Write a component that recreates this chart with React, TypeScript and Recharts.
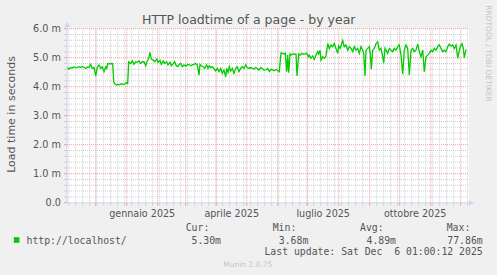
import React from 'react';
import { LineChart, Line, XAxis, YAxis, ReferenceLine, CartesianGrid } from 'recharts';

// Days since 1 Nov 2024
const daysEarly = [
  1.6, 3.3, 5.0, 6.6, 8.3, 10.0, 11.6, 13.3, 15.0, 16.6,
  18.3, 20.0, 21.6, 23.3, 25.0, 26.6, 28.3, 30.0, 31.6, 33.3,
  35.0, 36.6, 38.3, 40.0, 41.0, 42.0, 43.6, 45.3, 47.0, 48.0,
  49.0, 50.6, 52.3, 54.0, 55.6, 57.3, 59.0, 60.6, 62.0, 63.0,
  65.0, 66.6, 68.3, 70.0, 71.6, 73.3, 75.0, 76.6, 78.3, 80.0,
  81.6, 83.0, 84.3, 85.6, 87.6, 89.0, 91.0, 92.3, 94.3, 95.6,
  97.6, 99.0, 101.0, 102.3, 104.3, 105.6, 107.6, 109.0, 110.6, 112.3,
  113.6, 115.0, 116.6, 118.3, 120.0, 121.6, 123.3, 125.0, 126.6, 128.3,
  130.0, 131.6, 133.3, 134.3, 135.6, 137.6, 139.0, 141.0, 142.3, 143.6,
  145.0, 146.6, 148.3, 150.0, 151.6, 153.3, 155.0, 156.6, 158.3, 160.0,
  161.0, 162.3, 163.6, 165.0, 166.6, 168.3, 170.0, 171.6, 173.3, 175.0,
  176.6, 178.3, 180.0, 181.6, 183.3, 185.0, 186.6, 188.3, 190.0, 191.6,
  193.3, 195.0, 196.6, 198.3,
];
const loadEarly = [
  4.67, 4.60, 4.66, 4.64, 4.68, 4.66, 4.67, 4.69, 4.66, 4.70,
  4.67, 4.63, 4.68, 4.66, 4.77, 4.63, 4.66, 4.37, 4.67, 4.75,
  4.63, 4.69, 4.52, 4.69, 4.63, 4.80, 4.79, 4.80, 4.79, 4.17,
  4.10, 4.06, 4.08, 4.07, 4.10, 4.08, 4.09, 4.14, 4.11, 4.86,
  4.80, 4.89, 4.77, 4.86, 4.84, 4.89, 4.80, 4.86, 4.86, 4.72,
  4.89, 4.98, 5.18, 4.95, 4.92, 4.86, 4.95, 4.84, 4.91, 4.77,
  4.89, 4.80, 4.86, 4.75, 4.84, 4.72, 4.80, 4.86, 4.72, 4.69,
  4.77, 4.80, 4.69, 4.75, 4.71, 4.75, 4.77, 4.72, 4.75, 4.77,
  4.80, 4.75, 4.40, 4.77, 4.72, 4.69, 4.63, 4.75, 4.63, 4.72,
  4.66, 4.69, 4.63, 4.54, 4.63, 4.52, 4.63, 4.46, 4.57, 4.34,
  4.63, 4.49, 4.69, 4.54, 4.63, 4.46, 4.63, 4.69, 4.52, 4.63,
  4.69, 4.63, 4.75, 4.66, 4.63, 4.66, 4.63, 4.61, 4.66, 4.63,
  4.57, 4.66, 4.63, 4.57,
];
const daysLate = [
  200.3, 202.0, 203.6, 205.3, 207.0, 208.6, 210.3, 212.0, 213.6, 215.3,
  217.0, 218.6, 219.6, 221.0, 222.0, 223.0, 224.3, 225.3, 227.0, 228.6,
  230.3, 231.3, 233.0, 234.6, 236.3, 238.0, 239.6, 241.0, 242.6, 243.6,
  245.3, 247.0, 248.6, 250.3, 252.0, 253.0, 254.3, 255.3, 257.0, 258.6,
  260.3, 262.0, 263.6, 265.3, 267.0, 268.6, 270.3, 272.0, 273.0, 274.3,
  275.6, 277.0, 278.6, 280.3, 282.0, 283.6, 285.3, 287.0, 288.6, 290.3,
  292.0, 293.6, 295.3, 297.0, 298.0, 299.3, 300.3, 302.0, 303.6, 304.6,
  305.6, 307.0, 308.6, 310.3, 312.0, 313.6, 315.3, 317.0, 318.0, 319.3,
  320.3, 322.0, 323.6, 325.3, 327.0, 328.6, 330.3, 332.0, 333.6, 335.3,
  337.0, 338.6, 340.3, 342.0, 343.6, 345.3, 347.0, 348.6, 350.3, 352.0,
  353.6, 355.3, 357.0, 358.6, 360.3, 362.0, 363.6, 365.3, 367.0, 368.6,
  370.3, 372.0, 373.6, 375.3, 377.0, 378.6, 380.3, 382.0, 383.6, 385.3,
  387.0, 388.6, 390.3, 392.0, 393.6, 395.3, 396.3, 397.6, 398.6, 400.3,
];
const loadLate = [
  4.58, 4.63, 4.52, 4.60, 4.58, 4.55, 4.60, 4.55, 4.52, 5.17,
  5.15, 5.13, 5.15, 4.52, 5.09, 4.48, 5.13, 5.09, 5.13, 5.12,
  5.13, 4.37, 5.13, 5.09, 5.15, 5.12, 5.13, 5.15, 5.03, 5.09,
  4.98, 5.06, 4.94, 5.09, 5.21, 5.13, 5.26, 4.92, 5.03, 4.98,
  5.06, 5.49, 5.32, 5.44, 5.38, 5.49, 5.32, 5.15, 5.40, 5.32,
  5.44, 5.59, 5.38, 5.44, 5.26, 5.38, 5.32, 5.21, 5.38, 5.26,
  5.32, 5.15, 5.38, 5.26, 5.15, 4.37, 5.26, 5.32, 5.38, 5.15,
  4.60, 5.26, 5.32, 5.49, 5.55, 5.26, 5.32, 5.03, 4.81, 5.32,
  5.26, 5.15, 5.32, 5.26, 5.21, 5.32, 5.26, 5.38, 5.44, 5.09,
  4.43, 5.26, 5.44, 5.32, 4.40, 5.26, 5.32, 5.21, 5.26, 5.47,
  5.21, 5.03, 5.26, 4.52, 5.03, 5.09, 5.15, 5.26, 5.21, 5.32,
  5.26, 5.38, 5.44, 5.32, 5.21, 5.26, 5.21, 5.38, 5.47, 5.40,
  5.44, 5.32, 5.44, 4.98, 5.26, 5.44, 5.49, 5.32, 5.00, 5.29,
];

const monthStarts = [30, 61, 92, 120, 151, 181, 212, 242, 273, 304, 334, 365, 395];
const weekStarts = Array.from({ length: 58 }, (_, i) => 3 + 7 * i);
const quarterLabelDays = [76.5, 166, 257.5, 349.5];
const quarterLabels = ['gennaio 2025', 'aprile 2025', 'luglio 2025', 'ottobre 2025'];
const yTicks = Array.from({ length: 31 }, (_, i) => Math.round(i * 2) / 10);
const yMajor = [1, 2, 3, 4, 5, 6];
const yMinor = yTicks.filter((v) => v > 0 && !yMajor.includes(v));

const legendHeaders = ['Cur:', 'Min:', 'Avg:', 'Max:'];
const legendValues = ['5.30m', '3.68m', '4.89m', '77.86m'];
const seriesName = 'http://localhost/';
const lastUpdate = 'Last update: Sat Dec  6 01:00:12 2025';
const title = 'HTTP loadtime of a page - by year';
const yTitle = 'Load time in seconds';

const data = [...daysEarly.map((d, i) => ({ d, v: loadEarly[i] })), ...daysLate.map((d, i) => ({ d, v: loadLate[i] }))];
const xTicks = Array.from(new Set([...weekStarts, ...monthStarts, ...quarterLabelDays])).sort((a, b) => a - b);

const FONT = 'DejaVu Sans, sans-serif';
const MONO = 'DejaVu Sans Mono, monospace';
const TXT = '#555555';
const GRID = '#cfcfcf';
const MGRID = '#eaa0a0';
const AXIS = '#CFD6F8';

const XTick = (props: any) => {
  const { x, y, payload } = props;
  const v = payload.value;
  const li = quarterLabelDays.indexOf(v);
  if (li >= 0) {
    return (
      <text x={x} y={y + 14} textAnchor="middle" fontSize={9.6} fill={TXT} fontFamily={FONT}>
        {quarterLabels[li]}
      </text>
    );
  }
  const isMonth = monthStarts.includes(v);
  return <line x1={x} x2={x} y1={y} y2={y + 3} stroke={isMonth ? MGRID : GRID} strokeWidth={1} />;
};

const YTick = (props: any) => {
  const { x, y, payload } = props;
  const v = Math.round(payload.value * 10) / 10;
  const major = Math.abs(v - Math.round(v)) < 1e-6;
  return (
    <g>
      <line x1={x - 3} x2={x} y1={y} y2={y} stroke={major ? MGRID : GRID} strokeWidth={1} />
      {major && (
        <text x={x - 6} y={y} dy="0.36em" textAnchor="end" fontSize={9.7} fill={TXT} fontFamily={FONT}>
          {v === 0 ? '0.0' : v.toFixed(1) + ' m'}
        </text>
      )}
    </g>
  );
};

export default function App() {
  return (
    <div style={{ position: 'absolute', left: 0, top: 0, width: 497, height: 275, background: '#f0f0f0', overflow: 'hidden' }}>
      <LineChart width={497} height={275} data={data} margin={{ top: 28.7, right: 28, left: 7, bottom: 52.3 }}>
        <CartesianGrid horizontal={false} vertical={false} fill="#ffffff" fillOpacity={1} stroke="none" />
        {weekStarts.filter((d) => !monthStarts.includes(d)).map((d) => (
          <ReferenceLine key={'w' + d} x={d} stroke={GRID} strokeDasharray="1 1" strokeWidth={1} ifOverflow="discard" />
        ))}
        {yMinor.map((v) => (
          <ReferenceLine key={'ym' + v} y={v} stroke={GRID} strokeDasharray="1 1" strokeWidth={1} />
        ))}
        {monthStarts.map((d) => (
          <ReferenceLine key={'m' + d} x={d} stroke={MGRID} strokeDasharray="1 1" strokeWidth={1} />
        ))}
        {yMajor.map((v) => (
          <ReferenceLine key={'yM' + v} y={v} stroke={MGRID} strokeDasharray="1 1" strokeWidth={1} />
        ))}
        <XAxis
          dataKey="d"
          type="number"
          domain={[1.3, 403.3]}
          allowDataOverflow
          ticks={xTicks}
          interval={0}
          tick={<XTick />}
          tickLine={false}
          tickSize={0}
          tickMargin={0}
          axisLine={{ stroke: AXIS, strokeWidth: 1 }}
          height={20}
        />
        <YAxis
          type="number"
          domain={[0, 6]}
          allowDataOverflow
          ticks={yTicks}
          interval={0}
          tick={<YTick />}
          tickLine={false}
          tickSize={0}
          tickMargin={0}
          axisLine={{ stroke: AXIS, strokeWidth: 1 }}
          width={60}
        />
        <Line type="linear" dataKey="v" stroke="#00CC00" strokeWidth={1.3} dot={false} isAnimationActive={false} />
      </LineChart>
      <svg width={497} height={275} style={{ position: 'absolute', left: 0, top: 0, pointerEvents: 'none' }}>
        <polygon points="64.2,27 70.2,27 67.2,21.5" fill={AXIS} />
        <line x1={67.2} x2={67.2} y1={27} y2={29} stroke={AXIS} />
        <polygon points="469,200 469,206 474,203" fill={AXIS} />
        <text x={248.8} y={23.5} textAnchor="middle" fontSize={12.5} fill={TXT} fontFamily={FONT}>
          {title}
        </text>
        <text
          x={11}
          y={114.5}
          textAnchor="middle"
          dominantBaseline="central"
          fontSize={11}
          fill={TXT}
          fontFamily={FONT}
          transform="rotate(-90 11 114.5)"
        >
          {yTitle}
        </text>
        <text
          x={488.5}
          y={53.5}
          textAnchor="middle"
          dominantBaseline="central"
          fontSize={7.5}
          fill="#c4c4c4"
          fontFamily={FONT}
          transform="rotate(90 488.5 53.5)"
        >
          RRDTOOL / TOBI OETIKER
        </text>
        {legendHeaders.map((h, i) => (
          <text key={h} x={[185.7, 272.7, 360, 446.7][i]} y={230.9} fontSize={9.8} fill={TXT} fontFamily={MONO}>
            {h}
          </text>
        ))}
        <rect x={13.8} y={237.2} width={5.6} height={5.6} fill="#00CC00" />
        <text x={26.5} y={243.6} fontSize={9.8} fill={TXT} fontFamily={MONO}>
          {seriesName}
        </text>
        {legendValues.map((v, i) => (
          <text key={v} x={[221, 308.3, 396, 482.7][i]} y={243.6} textAnchor="end" fontSize={9.8} fill={TXT} fontFamily={MONO}>
            {v}
          </text>
        ))}
        <text x={482.7} y={255.3} textAnchor="end" fontSize={9.8} fill={TXT} fontFamily={MONO} style={{ whiteSpace: 'pre' }}>
          {lastUpdate}
        </text>
        <text x={247.7} y={266.5} textAnchor="middle" fontSize={7.5} fill="#c4c4c4" fontFamily={FONT}>
          Munin 2.0.75
        </text>
      </svg>
    </div>
  );
}
